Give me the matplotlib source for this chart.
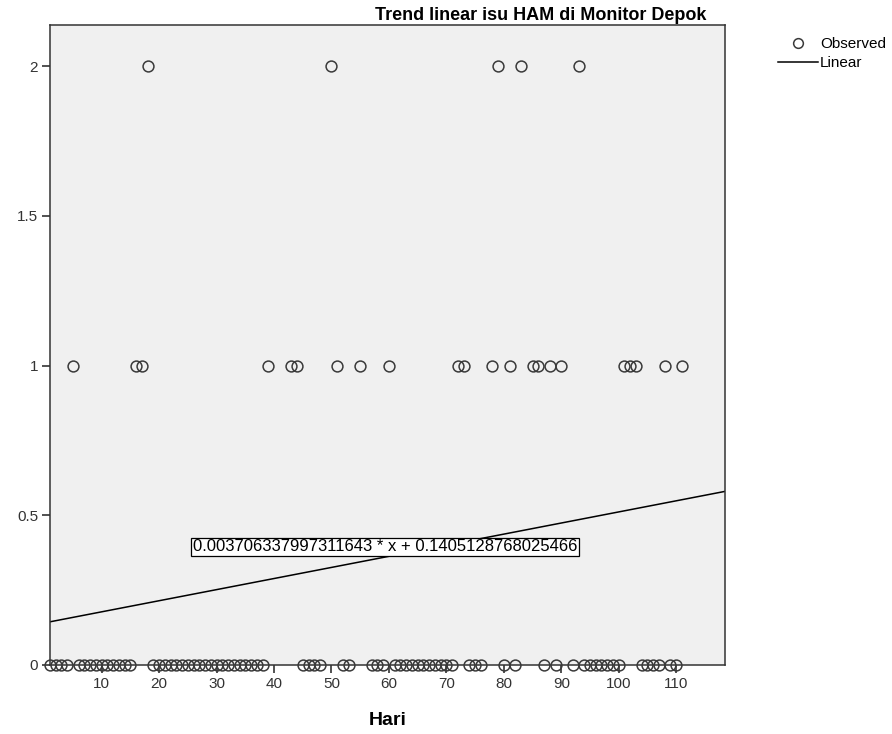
import matplotlib

matplotlib.use("Agg")
import matplotlib.pyplot as plt
from matplotlib.lines import Line2D

plt.rcParams["font.family"] = ["Liberation Sans", "DejaVu Sans"]

# Observed counts per day (Hari)
days_two = [18, 50, 79, 83, 93]
days_one = [5, 16, 17, 39, 43, 44, 51, 55, 60, 72, 73, 78, 81, 85, 86, 88, 90,
            101, 102, 103, 108, 111]
days_zero = [1, 2, 3, 4, 6, 7, 8, 9, 10, 11, 12, 13, 14, 15,
             19, 20, 21, 22, 23, 24, 25, 26, 27, 28, 29, 30, 31, 32, 33, 34, 35, 36, 37, 38,
             45, 46, 47, 48, 52, 53, 57, 58, 59,
             61, 62, 63, 64, 65, 66, 67, 68, 69, 70, 71, 74, 75, 76,
             80, 82, 87, 89, 92, 94, 95, 96, 97, 98, 99, 100,
             104, 105, 106, 107, 109, 110]

slope = 0.003706337997311643
intercept = 0.1405128768025466
x_range = [1, 118.5]

x_ticks = [10, 20, 30, 40, 50, 60, 70, 80, 90, 100, 110]
y_ticks = [0, 0.5, 1, 1.5, 2]
y_tick_labels = ["0", "0.5", "1", "1.5", "2"]

hari = days_zero + days_one + days_two
nilai = [0] * len(days_zero) + [1] * len(days_one) + [2] * len(days_two)

fig = plt.figure(figsize=(8.92, 7.34), dpi=100)
ax = fig.add_axes([50 / 892, 1 - 665 / 734, 675 / 892, 640 / 734])
ax.set_facecolor("#f0f0f0")

ax.plot(hari, nilai, "o", markersize=7.8, markerfacecolor="none",
        markeredgecolor="#3a3a3a", markeredgewidth=1.1, clip_on=False, zorder=3)
fit_y = [slope * x + intercept for x in x_range]
ax.plot(x_range, fit_y, color="black", linewidth=1.1, zorder=2)

ax.text(59.3, 0.395, f"{slope} * x + {intercept}", fontsize=12,
        ha="center", va="center",
        bbox=dict(boxstyle="square,pad=0.1", facecolor="white", edgecolor="black", linewidth=0.9))

ax.set_xlim(x_range)
ax.set_ylim(0, 2.137)
ax.set_xticks(x_ticks)
ax.set_yticks(y_ticks)
ax.set_yticklabels(y_tick_labels)
ax.tick_params(axis="both", direction="out", length=6, width=1.1, color="#222222",
               labelsize=11, labelcolor="#333333", pad=2.5)
for s in ax.spines.values():
    s.set_color("#333333")
    s.set_linewidth(1.1)

ax.set_xlabel("Hari", fontsize=14, fontweight="bold", labelpad=15)
fig.text(706 / 892, 1 - 16 / 734, "Trend linear isu HAM di Monitor Depok",
         fontsize=13, fontweight="bold", ha="right", va="center")

handles = [
    Line2D([], [], marker="o", linestyle="none", markersize=7, markerfacecolor="none",
           markeredgecolor="#3a3a3a", markeredgewidth=1.1),
    Line2D([], [], color="black", linewidth=1.1),
]
fig.legend(handles, ["Observed", "Linear"], loc="upper left",
           bbox_to_anchor=(778 / 892, 1 - 37 / 734), frameon=False, fontsize=11,
           handlelength=2.6, handletextpad=0.15, borderpad=0, borderaxespad=0,
           labelspacing=0.35)

fig.savefig("out.png", dpi=100)
